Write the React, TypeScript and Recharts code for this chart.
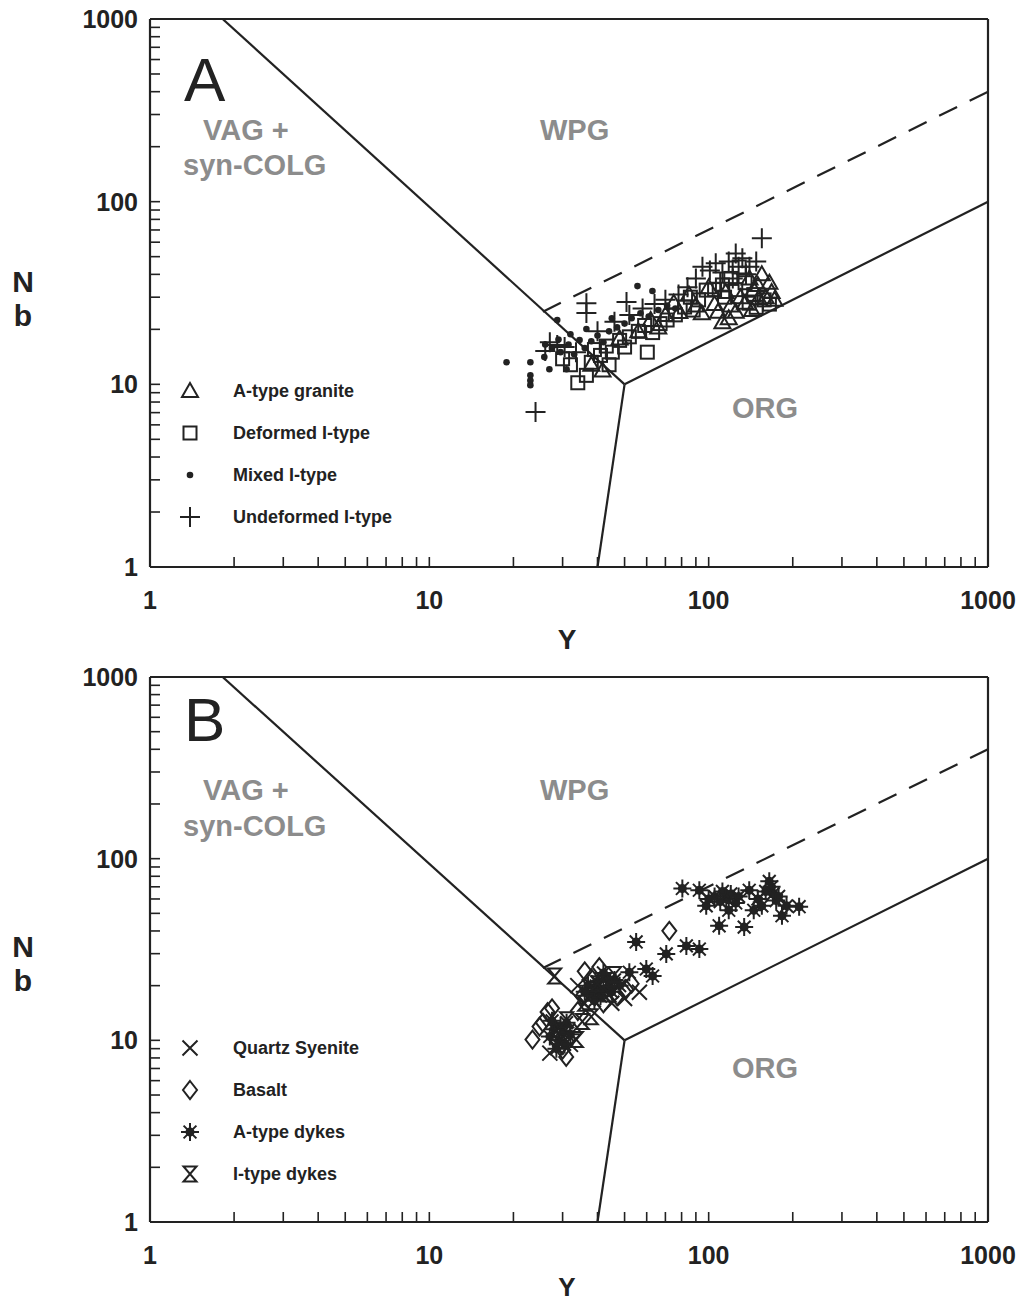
import React from 'react';
import { ScatterChart, Scatter, XAxis, YAxis, ReferenceLine, Legend } from 'recharts';

const INK = '#222';
const GREY = '#8c8c8c';
const FONT = '"Liberation Sans", Arial, Helvetica, sans-serif';

// axis ticks (log decades + minor ticks)
const logTicks = [
  1, 2, 3, 4, 5, 6, 7, 8, 9,
  10, 20, 30, 40, 50, 60, 70, 80, 90,
  100, 200, 300, 400, 500, 600, 700, 800, 900,
  1000,
];
const majorTicks = [1, 10, 100, 1000];

// discrimination boundaries (Y, Nb)
const vagBoundary = [[1.82, 1000], [50, 10]];
const orgBoundary = [[50, 10], [1000, 100]];
const vagOrgBoundary = [[50, 10], [40, 1]];
const dashedBoundary = [[25.5, 25], [1000, 400]];

// Panel A series (Y, Nb)
const aTypeGranite = [
  [78.5, 24.9], [94.5, 24.5], [112, 21.9], [143, 25.5], [151, 29.6], [160, 30], [168, 32],
  [172, 29], [150, 35], [130, 30], [120, 27], [105, 27.5], [90, 27], [85, 31], [100, 34],
  [140, 38], [155, 40], [62, 22.5], [66, 20.5], [56, 19.5], [48, 17.8], [41.7, 11.9],
  [38, 12.8], [125, 25], [135, 28], [115, 32], [70, 24], [75, 28], [118, 23], [108, 25],
  [165, 36], [145, 33],
];
const deformedIType = [
  [36.5, 11.2], [34, 10.2], [45.2, 15], [60.3, 15], [32, 12.8], [38, 13.2], [41, 14.4],
  [43, 16.2], [48, 17.4], [52, 18.2], [56, 19.5], [59, 21], [63, 19.2], [67, 21.5],
  [71, 22.5], [76, 24], [82, 26.5], [88, 25.5], [98, 32.8], [105, 33], [112, 35],
  [128.6, 43.9], [139.6, 27.8], [148, 26.4], [120, 38], [125, 33], [135, 36], [145, 31],
  [158, 29], [92, 29], [86, 30], [50, 16], [44, 12.8], [30, 13.8], [39, 15.5], [114, 30],
  [165, 27.5],
];
const mixedIType = [
  [18.9, 13.2], [23, 13.2], [23, 11.2], [23, 10.5], [23, 9.9], [25.8, 14.1], [26.9, 12.1],
  [31, 12.1], [28.7, 22.5], [36.5, 20.1], [55.6, 34.5], [62.9, 32.4], [27.5, 15.8],
  [29.5, 15], [31.5, 16.5], [33, 14.6], [34.5, 17.5], [36, 15.8], [38, 17.2], [40, 18.5],
  [42, 17], [44, 19.5], [47, 20.5], [50, 21.5], [53, 23], [57, 24.5], [61, 23.5],
  [66, 25.5], [71, 27], [76, 26], [32, 18.8], [29, 17.6], [45, 23], [26, 16.5],
];
const undeformedIType = [
  [24, 7.05], [36.5, 27.8], [36.5, 24.6], [28.7, 16.4], [155, 63], [84, 34], [95, 44],
  [101, 42], [106, 46], [112, 41], [118, 47], [125, 52], [132, 49], [140, 44], [148, 47],
  [136, 40], [122, 38], [50.8, 28.2], [27, 17], [30.5, 16], [33.5, 15], [26, 15.2],
  [40, 19.5], [46, 22], [52, 24], [58, 26], [64, 27.5], [70, 29], [78, 31], [90, 38],
  [110, 36], [128, 44],
];

// Panel B series (Y, Nb)
const quartzSyenite = [
  [28.5, 9.2], [27, 8.5], [56.5, 18.4], [45, 16], [41, 19], [37, 17], [30, 11.5],
  [32, 9.5], [50, 17], [34, 20], [44, 21],
];
const basalt = [
  [72.3, 40.1], [23.4, 10.1], [24.8, 11.9], [26.5, 14.3], [27.5, 15], [30, 8.9],
  [30.9, 8.1], [50.7, 19.1], [40.6, 25.3], [35.3, 17.5], [25.5, 12.5], [33, 11],
  [42, 16], [47, 17.5], [38, 22], [34, 14.5], [53, 20.5], [36, 24],
];
const aTypeDykes = [
  [80.5, 68.5], [92.6, 67], [115.6, 60.3], [139.7, 67], [164.8, 75], [174.5, 58.8],
  [210.8, 54.4], [183, 48.5], [109, 42.7], [134, 42], [98, 55], [55, 34.8], [70.5, 29.9],
  [83.2, 33.1], [92.6, 31.8], [52, 23.7], [59.8, 24.7], [63, 22.6], [39.6, 19.9],
  [105, 62], [110, 58], [120, 64], [125, 57], [118, 52], [128, 62], [150, 60], [160, 66],
  [168, 70], [170, 64], [178, 62], [190, 55], [145, 52], [155, 55], [100, 60], [112, 66],
  [38, 18], [40, 21], [41, 17.5], [42, 19], [43, 22], [44, 20], [45, 18.5], [46, 21.5],
  [48, 20], [39, 16.5], [37, 20], [42, 23.5], [36, 18.5],
  [27, 10.5], [28, 11.5], [29, 10], [29.5, 12], [30, 11], [31, 12.5], [28.5, 9],
  [30.5, 9.5], [32, 10.8], [27.5, 12.8],
];
const iTypeDykes = [
  [28.1, 22.6], [33.6, 10.1], [35.3, 12.7], [38, 13.5], [36, 16], [40, 20.5], [44, 18],
  [31, 13], [46, 23],
];

const toPts = (arr: number[][]) => arr.map(([x, y]) => ({ x, y }));

const SW = 2;

// marker shapes
const Triangle = ({ cx, cy }: any) => (
  <polygon points={`${cx},${cy - 8} ${cx - 8},${cy + 6} ${cx + 8},${cy + 6}`} fill="none" stroke={INK} strokeWidth={SW} />
);
const Square = ({ cx, cy }: any) => (
  <rect x={cx - 6.5} y={cy - 6.5} width={13} height={13} fill="none" stroke={INK} strokeWidth={SW} />
);
const Dot = ({ cx, cy }: any) => <circle cx={cx} cy={cy} r={3.3} fill={INK} />;
const Plus = ({ cx, cy }: any) => (
  <path d={`M${cx - 10},${cy}H${cx + 10}M${cx},${cy - 10}V${cy + 10}`} stroke={INK} strokeWidth={SW} />
);
const Cross = ({ cx, cy }: any) => (
  <path d={`M${cx - 7.5},${cy - 7.5}L${cx + 7.5},${cy + 7.5}M${cx + 7.5},${cy - 7.5}L${cx - 7.5},${cy + 7.5}`} stroke={INK} strokeWidth={SW} />
);
const Diamond = ({ cx, cy }: any) => (
  <polygon points={`${cx},${cy - 9} ${cx + 7},${cy} ${cx},${cy + 9} ${cx - 7},${cy}`} fill="none" stroke={INK} strokeWidth={SW} />
);
const Asterisk = ({ cx, cy }: any) => (
  <g stroke={INK} strokeWidth={SW}>
    <path d={`M${cx - 9},${cy}H${cx + 9}M${cx},${cy - 9}V${cy + 9}M${cx - 6.4},${cy - 6.4}L${cx + 6.4},${cy + 6.4}M${cx + 6.4},${cy - 6.4}L${cx - 6.4},${cy + 6.4}`} />
    <circle cx={cx} cy={cy} r={3.5} fill={INK} />
  </g>
);
const Hourglass = ({ cx, cy }: any) => (
  <path d={`M${cx - 6.5},${cy - 7.5}H${cx + 6.5}L${cx - 6.5},${cy + 7.5}H${cx + 6.5}Z`} fill="none" stroke={INK} strokeWidth={SW} />
);
const NoMark = () => <g />;

const XTick = ({ x, y, payload }: any) => {
  const v = payload.value;
  const major = majorTicks.includes(v);
  return (
    <g>
      <line x1={x} x2={x} y1={y} y2={y - 10} stroke={INK} strokeWidth={1.6} />
      {major && (
        <text x={x} y={y + 42} textAnchor="middle" fontSize={25} fontWeight="bold" fontFamily={FONT} fill={INK}>
          {v}
        </text>
      )}
    </g>
  );
};

const YTick = ({ x, y, payload }: any) => {
  const v = payload.value;
  const major = majorTicks.includes(v);
  return (
    <g>
      <line x1={x} x2={x + 10} y1={y} y2={y} stroke={INK} strokeWidth={1.6} />
      {major && (
        <text x={x - 12} y={y + 9} textAnchor="end" fontSize={25} fontWeight="bold" fontFamily={FONT} fill={INK}>
          {v}
        </text>
      )}
    </g>
  );
};

type Entry = { name: string; Mark: (p: any) => React.ReactElement };

const legendA: Entry[] = [
  { name: 'A-type granite', Mark: Triangle },
  { name: 'Deformed I-type', Mark: Square },
  { name: 'Mixed I-type', Mark: Dot },
  { name: 'Undeformed I-type', Mark: Plus },
];
const legendB: Entry[] = [
  { name: 'Quartz Syenite', Mark: Cross },
  { name: 'Basalt', Mark: Diamond },
  { name: 'A-type dykes', Mark: Asterisk },
  { name: 'I-type dykes', Mark: Hourglass },
];

const renderLegend = (entries: Entry[]) => () => (
  <div style={{ fontFamily: FONT, fontWeight: 'bold', fontSize: 18, color: INK }}>
    {entries.map(({ name, Mark }) => (
      <div key={name} style={{ height: 42, display: 'flex', alignItems: 'center' }}>
        <svg width={30} height={24} style={{ flex: 'none' }}>
          <Mark cx={15} cy={12} />
        </svg>
        <span style={{ marginLeft: 28, whiteSpace: 'nowrap' }}>{name}</span>
      </div>
    ))}
  </div>
);

type PanelProps = {
  top: number;
  height: number;
  marginTop: number;
  xAxisHeight: number;
  legendTop: number;
  legend: Entry[];
  series: { data: number[][]; Mark: (p: any) => React.ReactElement; name: string }[];
};

function Panel({ top, height, marginTop, xAxisHeight, legendTop, legend, series }: PanelProps) {
  const line = { stroke: INK, strokeWidth: 2.2 };
  return (
    <div style={{ position: 'absolute', left: 0, top }}>
      <ScatterChart width={1026} height={height} margin={{ top: marginTop, right: 38, left: 0, bottom: 0 }}>
        <XAxis
          type="number" dataKey="x" scale="log" domain={[1, 1000]} allowDataOverflow
          ticks={logTicks} interval={0} tickLine={false} tickSize={0} tickMargin={0}
          height={xAxisHeight} axisLine={{ stroke: INK, strokeWidth: 2.2 }} tick={<XTick />}
        />
        <YAxis
          type="number" dataKey="y" scale="log" domain={[1, 1000]} allowDataOverflow
          ticks={logTicks} interval={0} tickLine={false} tickSize={0} tickMargin={0}
          width={150} axisLine={{ stroke: INK, strokeWidth: 2.2 }} tick={<YTick />}
        />
        <ReferenceLine y={1000} stroke={INK} strokeWidth={2.2} />
        <ReferenceLine x={1000} stroke={INK} strokeWidth={2.2} />
        <Scatter data={toPts(vagBoundary)} line={line} shape={NoMark} isAnimationActive={false} legendType="none" />
        <Scatter data={toPts(orgBoundary)} line={line} shape={NoMark} isAnimationActive={false} legendType="none" />
        <Scatter data={toPts(vagOrgBoundary)} line={line} shape={NoMark} isAnimationActive={false} legendType="none" />
        <Scatter
          data={toPts(dashedBoundary)} line={{ ...line, strokeDasharray: '20 14' }}
          shape={NoMark} isAnimationActive={false} legendType="none"
        />
        {series.map((s) => (
          <Scatter key={s.name} name={s.name} data={toPts(s.data)} shape={s.Mark} isAnimationActive={false} />
        ))}
        <Legend
          layout="vertical" align="center" verticalAlign="middle"
          content={renderLegend(legend)}
          wrapperStyle={{ left: 175, top: legendTop, width: 320, height: 170 }}
        />
      </ScatterChart>
    </div>
  );
}

const Label = ({ x, y, size, children, color = GREY, weight = 'bold' }: any) => (
  <text x={x} y={y} fontSize={size} fontWeight={weight} fontFamily={FONT} fill={color}>
    {children}
  </text>
);

export default function App() {
  return (
    <div style={{ position: 'absolute', left: 0, top: 0, width: 1026, height: 1303, background: '#fff' }}>
      <Panel
        top={0} height={650} marginTop={19} xAxisHeight={83} legendTop={370} legend={legendA}
        series={[
          { name: 'A-type granite', data: aTypeGranite, Mark: Triangle },
          { name: 'Deformed I-type', data: deformedIType, Mark: Square },
          { name: 'Mixed I-type', data: mixedIType, Mark: Dot },
          { name: 'Undeformed I-type', data: undeformedIType, Mark: Plus },
        ]}
      />
      <Panel
        top={650} height={653} marginTop={27} xAxisHeight={81} legendTop={377} legend={legendB}
        series={[
          { name: 'Quartz Syenite', data: quartzSyenite, Mark: Cross },
          { name: 'Basalt', data: basalt, Mark: Diamond },
          { name: 'A-type dykes', data: aTypeDykes, Mark: Asterisk },
          { name: 'I-type dykes', data: iTypeDykes, Mark: Hourglass },
        ]}
      />
      <svg width={1026} height={1303} style={{ position: 'absolute', left: 0, top: 0, pointerEvents: 'none' }}>
        <Label x={184} y={101} size={62} color={INK} weight="normal">A</Label>
        <Label x={203} y={140} size={29}>VAG +</Label>
        <Label x={183} y={175} size={29}>syn-COLG</Label>
        <Label x={540} y={140} size={29}>WPG</Label>
        <Label x={732} y={418} size={29}>ORG</Label>
        <text x={567} y={649} textAnchor="middle" fontSize={28} fontWeight="bold" fontFamily={FONT} fill={INK}>Y</text>
        <text x={23} y={292} textAnchor="middle" fontSize={30} fontWeight="bold" fontFamily={FONT} fill={INK}>N</text>
        <text x={23} y={326} textAnchor="middle" fontSize={30} fontWeight="bold" fontFamily={FONT} fill={INK}>b</text>

        <Label x={184} y={741} size={62} color={INK} weight="normal">B</Label>
        <Label x={203} y={800} size={29}>VAG +</Label>
        <Label x={183} y={836} size={29}>syn-COLG</Label>
        <Label x={540} y={800} size={29}>WPG</Label>
        <Label x={732} y={1078} size={29}>ORG</Label>
        <text x={567} y={1296} textAnchor="middle" fontSize={26} fontWeight="bold" fontFamily={FONT} fill={INK}>Y</text>
        <text x={23} y={957} textAnchor="middle" fontSize={30} fontWeight="bold" fontFamily={FONT} fill={INK}>N</text>
        <text x={23} y={991} textAnchor="middle" fontSize={30} fontWeight="bold" fontFamily={FONT} fill={INK}>b</text>
      </svg>
    </div>
  );
}
